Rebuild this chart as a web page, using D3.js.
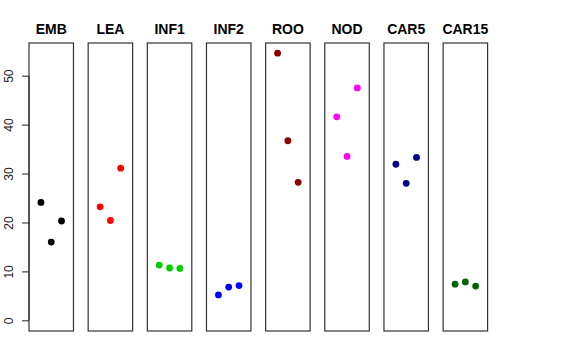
<!DOCTYPE html>
<html>
<head>
<meta charset="utf-8">
<script src="https://cdn.jsdelivr.net/npm/d3@7"></script>
<style>
  body { margin: 0; background: #fff; }
  svg { display: block; }
</style>
</head>
<body>
<script>
// Tissue panels and their colours
const tissues = ["EMB", "LEA", "INF1", "INF2", "ROO", "NOD", "CAR5", "CAR15"];
const colors = ["#000000", "#FF0000", "#00CD00", "#0000FF", "#8B0000", "#FF00FF", "#00008B", "#006400"];

// Three replicate values per tissue
const rep1 = [24.1, 23.2, 11.3, 5.2, 54.6, 41.6, 31.9, 7.4];
const rep2 = [16.0, 20.4, 10.7, 6.8, 36.7, 33.5, 28.0, 7.85];
const rep3 = [20.3, 31.1, 10.6, 7.1, 28.2, 47.5, 33.3, 7.0];

const yTicks = [0, 10, 20, 30, 40, 50];

const width = 576, height = 360;
const panelTop = 43, panelBottom = 331;

const svg = d3.select("body").append("svg")
    .attr("width", width)
    .attr("height", height)
    .attr("viewBox", `0 0 ${width} ${height}`);

// panels laid out with a band scale
const xPanel = d3.scaleBand()
    .domain(tissues)
    .range([29, 487.6])
    .paddingInner(0.248)
    .paddingOuter(0);

// within a panel, replicates sit at 1, 2, 3 on a 0..4 range (R style 4% padding)
const xIn = d3.scaleLinear()
    .domain([-0.16, 4.16])
    .range([0, xPanel.bandwidth()]);

const y = d3.scaleLinear()
    .domain([-2.18, 56.68])
    .range([panelBottom, panelTop]);

// build a flat list of points
const points = [];
tissues.forEach(function (t, i) {
    [rep1[i], rep2[i], rep3[i]].forEach(function (v, j) {
        points.push({ tissue: t, rep: j + 1, value: v, color: colors[i] });
    });
});

// panel boxes
svg.append("g").selectAll("rect")
    .data(tissues)
    .join("rect")
    .attr("x", d => xPanel(d))
    .attr("y", panelTop)
    .attr("width", xPanel.bandwidth())
    .attr("height", panelBottom - panelTop)
    .attr("fill", "none")
    .attr("stroke", "#333")
    .attr("stroke-width", 1.2);

// panel titles
svg.append("g").selectAll("text")
    .data(tissues)
    .join("text")
    .attr("x", d => xPanel(d) + xPanel.bandwidth() / 2)
    .attr("y", 34)
    .attr("text-anchor", "middle")
    .attr("font-family", "Liberation Sans, Arial, sans-serif")
    .attr("font-weight", "bold")
    .attr("font-size", 14)
    .text(d => d);

// points
svg.append("g").selectAll("circle")
    .data(points)
    .join("circle")
    .attr("cx", d => xPanel(d.tissue) + xIn(d.rep))
    .attr("cy", d => y(d.value))
    .attr("r", 3.4)
    .attr("fill", d => d.color);

// left axis (R style: line only spans the ticks)
const yAxis = svg.append("g")
    .attr("transform", `translate(${xPanel(tissues[0])},0)`)
    .call(d3.axisLeft(y).tickValues(yTicks).tickSize(7).tickSizeOuter(0).tickFormat(d3.format("d")));

yAxis.select(".domain").remove();
yAxis.append("line")
    .attr("x1", 0).attr("x2", 0)
    .attr("y1", y(yTicks[0])).attr("y2", y(yTicks[yTicks.length - 1]))
    .attr("stroke", "#222");

yAxis.selectAll(".tick line").attr("stroke", "#222");
yAxis.selectAll(".tick text")
    .attr("font-family", "Liberation Sans, Arial, sans-serif")
    .attr("font-size", 12)
    .attr("fill", "#222")
    .attr("x", 0)
    .attr("dy", 0)
    .attr("text-anchor", "middle")
    .attr("transform", "translate(-16,0) rotate(-90)");
</script>
</body>
</html>
